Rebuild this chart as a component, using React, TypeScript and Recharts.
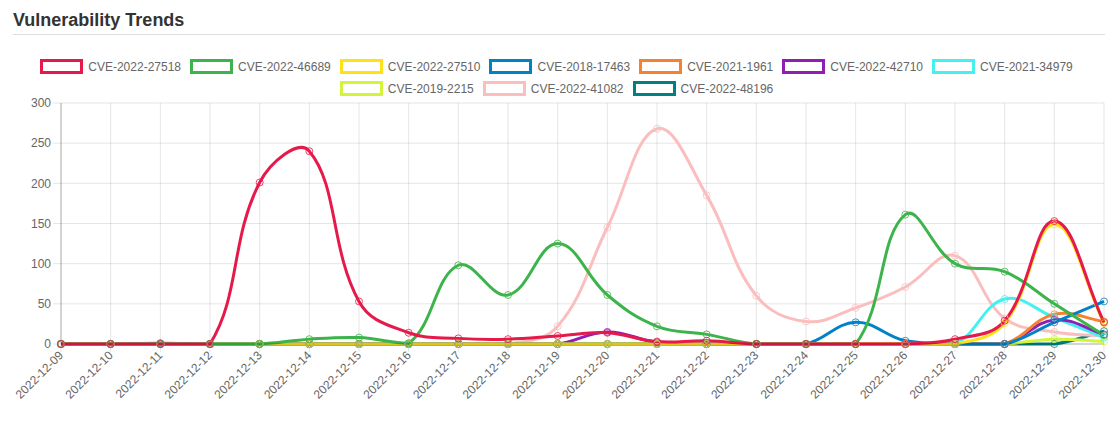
import React from "react";
import { LineChart, Line, XAxis, YAxis, CartesianGrid } from "recharts";

const dates = [
  "2022-12-09", "2022-12-10", "2022-12-11", "2022-12-12", "2022-12-13", "2022-12-14",
  "2022-12-15", "2022-12-16", "2022-12-17", "2022-12-18", "2022-12-19", "2022-12-20",
  "2022-12-21", "2022-12-22", "2022-12-23", "2022-12-24", "2022-12-25", "2022-12-26",
  "2022-12-27", "2022-12-28", "2022-12-29", "2022-12-30",
];

const cve202227518 = [0, 0, 0, 0, 201, 240, 53, 14, 7, 6, 10, 14, 3, 4, 0, 0, 0, 0, 6, 29, 153, 27];
const cve202246689 = [0, 0, 0, 0, 0, 6, 8, 1, 98, 61, 125, 61, 22, 12, 0, 0, 0, 161, 100, 90, 50, 11];
const cve202227510 = [0, 0, 0, 0, 0, 0, 0, 0, 0, 0, 0, 0, 0, 0, 0, 0, 0, 0, 0, 26, 149, 26];
const cve201817463 = [0, 0, 1, 0, 0, 0, 0, 0, 0, 0, 0, 0, 0, 0, 0, 0, 27, 4, 0, 0, 27, 53];
const cve20211961 = [0, 0, 0, 0, 0, 0, 0, 0, 0, 0, 0, 0, 0, 0, 0, 0, 0, 0, 0, 0, 37, 28];
const cve202242710 = [0, 0, 0, 0, 0, 0, 0, 0, 0, 0, 0, 15, 2, 0, 0, 0, 0, 0, 0, 0, 30, 12];
const cve202134979 = [0, 0, 0, 0, 0, 0, 0, 0, 0, 0, 0, 0, 0, 0, 0, 0, 0, 0, 0, 56, 33, 8];
const cve20192215 = [0, 0, 0, 0, 0, 0, 0, 0, 0, 0, 0, 0, 0, 0, 0, 0, 0, 0, 0, 0, 6, 3];
const cve202241082 = [0, 0, 0, 0, 0, 0, 0, 0, 0, 0, 22, 145, 268, 185, 60, 28, 45, 71, 110, 32, 15, 10];
const cve202248196 = [0, 0, 0, 0, 0, 0, 0, 0, 0, 0, 0, 0, 0, 0, 0, 0, 0, 0, 0, 0, 0, 16];

const yTicks = [0, 50, 100, 150, 200, 250, 300];

const series = [
  { name: "CVE-2022-27518", color: "#e6194b", values: cve202227518 },
  { name: "CVE-2022-46689", color: "#3cb44b", values: cve202246689 },
  { name: "CVE-2022-27510", color: "#ffe119", values: cve202227510 },
  { name: "CVE-2018-17463", color: "#0082c8", values: cve201817463 },
  { name: "CVE-2021-1961", color: "#f58231", values: cve20211961 },
  { name: "CVE-2022-42710", color: "#911eb4", values: cve202242710 },
  { name: "CVE-2021-34979", color: "#46f0f0", values: cve202134979 },
  { name: "CVE-2019-2215", color: "#d2f53c", values: cve20192215 },
  { name: "CVE-2022-41082", color: "#fabebe", values: cve202241082 },
  { name: "CVE-2022-48196", color: "#008080", values: cve202248196 },
];

const data = dates.map((date, i) => {
  const row: Record<string, string | number> = { date };
  series.forEach((s) => (row[s.name] = s.values[i]));
  return row;
});

const W = 1118;
const H = 428;
const MARGIN = { top: 103, right: 14, bottom: 0, left: 8 };
const Y_AXIS_W = 53;
const X_AXIS_H = 84;
const AREA = {
  left: MARGIN.left + Y_AXIS_W,
  right: W - MARGIN.right,
  top: MARGIN.top,
  bottom: H - MARGIN.bottom - X_AXIS_H,
};
const FONT = '"Liberation Sans", Arial, Helvetica, sans-serif';
const GRID = "rgba(0,0,0,0.1)";

// chart.js style spline (tension 0.4), control points capped to the plot area
function splineCurve(context: any) {
  let pts: [number, number][] = [];
  const clamp = (v: number, lo: number, hi: number) => Math.max(lo, Math.min(hi, v));
  return {
    areaStart() {},
    areaEnd() {},
    lineStart() {
      pts = [];
    },
    point(x: number, y: number) {
      pts.push([+x, +y]);
    },
    lineEnd() {
      const n = pts.length;
      if (!n) return;
      const t = 0.4;
      const cps = pts.map((cur, i) => {
        const prev = pts[i - 1] || cur;
        const next = pts[i + 1] || cur;
        const d01 = Math.hypot(cur[0] - prev[0], cur[1] - prev[1]);
        const d12 = Math.hypot(next[0] - cur[0], next[1] - cur[1]);
        let s01 = d01 / (d01 + d12);
        let s12 = d12 / (d01 + d12);
        if (isNaN(s01)) s01 = 0;
        if (isNaN(s12)) s12 = 0;
        const fa = t * s01;
        const fb = t * s12;
        const dx = next[0] - prev[0];
        const dy = next[1] - prev[1];
        return {
          px: clamp(cur[0] - fa * dx, AREA.left, AREA.right),
          py: clamp(cur[1] - fa * dy, AREA.top, AREA.bottom),
          nx: clamp(cur[0] + fb * dx, AREA.left, AREA.right),
          ny: clamp(cur[1] + fb * dy, AREA.top, AREA.bottom),
        };
      });
      context.moveTo(pts[0][0], pts[0][1]);
      for (let i = 1; i < n; i++) {
        context.bezierCurveTo(cps[i - 1].nx, cps[i - 1].ny, cps[i].px, cps[i].py, pts[i][0], pts[i][1]);
      }
    },
  };
}

function DateTick({ x, y, payload }: any) {
  return (
    <text
      transform={`translate(${x},${y + 1})rotate(-45)`}
      textAnchor="end"
      dy="0.35em"
      fill="#666"
      fontSize={12}
      fontFamily={FONT}
    >
      {payload.value}
    </text>
  );
}

function LegendRow({ items, top }: { items: typeof series; top: number }) {
  return (
    <div
      style={{
        position: "absolute",
        left: 0,
        top,
        width: 1122,
        height: 15,
        display: "flex",
        justifyContent: "center",
        alignItems: "center",
      }}
    >
      {items.map((s) => (
        <div key={s.name} style={{ display: "flex", alignItems: "center", marginRight: 9 }}>
          <div
            style={{
              width: 43,
              height: 15,
              boxSizing: "border-box",
              border: `3px solid ${s.color}`,
              background: "#fff",
            }}
          />
          <span style={{ marginLeft: 5, fontSize: 12, color: "#666", whiteSpace: "nowrap" }}>{s.name}</span>
        </div>
      ))}
    </div>
  );
}

export default function App() {
  return (
    <div
      style={{
        position: "fixed",
        left: 0,
        top: 0,
        width: W,
        height: H,
        background: "#fff",
        fontFamily: FONT,
        overflow: "hidden",
      }}
    >
      <div style={{ position: "absolute", left: 0, top: 0 }}>
        <LineChart width={W} height={H} data={data} margin={MARGIN}>
          <CartesianGrid stroke={GRID} />
          <XAxis
            dataKey="date"
            interval={0}
            height={X_AXIS_H}
            tick={<DateTick />}
            tickSize={8}
            tickMargin={0}
            tickLine={{ stroke: GRID }}
            axisLine={{ stroke: "rgba(0,0,0,0.25)" }}
          />
          <YAxis
            width={Y_AXIS_W}
            domain={[0, 300]}
            ticks={yTicks}
            tickSize={8}
            tickMargin={2}
            tickLine={{ stroke: GRID }}
            axisLine={{ stroke: "rgba(0,0,0,0.25)" }}
            tick={{ fill: "#666", fontSize: 12, fontFamily: FONT }}
          />
          {[...series].reverse().map((s) => (
            <Line
              key={s.name}
              dataKey={s.name}
              type={splineCurve as any}
              stroke={s.color}
              strokeWidth={3}
              dot={{ r: 3.5, stroke: s.color, strokeWidth: 1, fill: "none", strokeOpacity: 0.8 }}
              activeDot={false}
              isAnimationActive={false}
            />
          ))}
        </LineChart>
      </div>
      <div
        style={{
          position: "absolute",
          left: 13,
          top: 9,
          fontSize: 18,
          fontWeight: "bold",
          color: "#333",
          lineHeight: "22px",
        }}
      >
        Vulnerability Trends
      </div>
      <div style={{ position: "absolute", left: 13, top: 34, width: 1092, height: 1, background: "#ddd" }} />
      <LegendRow items={series.slice(0, 7)} top={59} />
      <LegendRow items={series.slice(7)} top={81} />
    </div>
  );
}
